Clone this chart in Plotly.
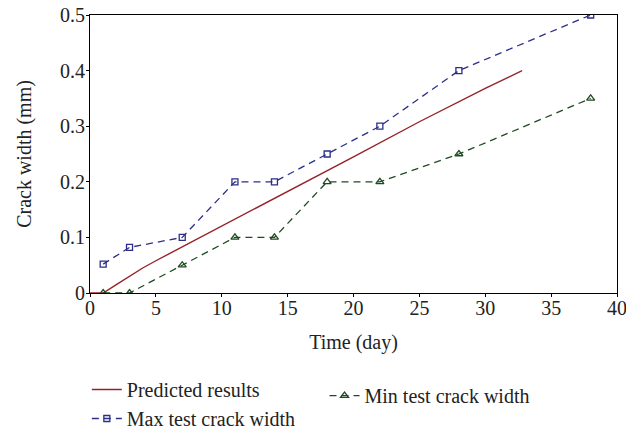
import plotly.graph_objects as go

# Data
pred_x = [0, 1, 2, 3, 4, 5, 10, 15, 20, 25, 30, 32.8]
pred_y = [0, 0, 0.015, 0.03, 0.045, 0.058, 0.12, 0.183, 0.245, 0.308, 0.368, 0.40]

test_x = [1, 3, 7, 11, 14, 18, 22, 28, 38]
max_y = [0.052, 0.082, 0.10, 0.20, 0.20, 0.25, 0.30, 0.40, 0.50]
min_y = [0, 0, 0.05, 0.10, 0.10, 0.20, 0.20, 0.25, 0.35]

x_ticks = [0, 5, 10, 15, 20, 25, 30, 35, 40]
y_ticks = [0, 0.1, 0.2, 0.3, 0.4, 0.5]
y_tick_labels = ["0", "0.1", "0.2", "0.3", "0.4", "0.5"]

FONT = "Liberation Serif"
FS = 20
RED = "#962228"
BLUE = "#2C2E88"
GREEN = "#1F4A22"

fig = go.Figure()
fig.add_trace(go.Scatter(x=pred_x, y=pred_y, mode="lines", name="Predicted results",
                         line=dict(color=RED, width=1.4), legend="legend"))
fig.add_trace(go.Scatter(x=test_x, y=max_y, mode="lines+markers", name="Max test crack width",
                         line=dict(color=BLUE, width=1.3, dash="7px,5px"),
                         marker=dict(symbol="square-open", size=6, color=BLUE, line=dict(width=1.3)),
                         legend="legend"))
fig.add_trace(go.Scatter(x=test_x, y=min_y, mode="lines+markers", name="Min test crack width",
                         line=dict(color=GREEN, width=1.3, dash="7px,5px"),
                         marker=dict(symbol="triangle-up-open", size=7, color=GREEN, line=dict(width=1.3)),
                         legend="legend2"))

axis_common = dict(showline=True, linecolor="black", linewidth=1.2, mirror=True,
                   showgrid=False, zeroline=False, ticks="outside", ticklen=3,
                   tickcolor="black", automargin=True, ticklabeloverflow="allow",
                   tickfont=dict(family=FONT, size=FS, color="#222"))

fig.update_layout(
    width=626, height=431,
    margin=dict(l=90, r=9, t=15, b=138, autoexpand=False),
    plot_bgcolor="white", paper_bgcolor="white",
    font=dict(family=FONT, size=FS, color="#222"),
    xaxis=dict(range=[0, 40], tickvals=x_ticks, ticklabelstandoff=-6,
               title=dict(text="Time (day)", font=dict(family=FONT, size=FS), standoff=16),
               **axis_common),
    yaxis=dict(range=[0, 0.5], tickvals=y_ticks, ticktext=y_tick_labels, ticklabelstandoff=-3,
               title=dict(text="Crack width (mm)", font=dict(family=FONT, size=FS), standoff=22),
               **axis_common),
    legend=dict(x=-0.006, y=-0.277, xanchor="left", yanchor="top", bgcolor="rgba(0,0,0,0)",
                font=dict(family=FONT, size=FS), orientation="v", itemwidth=30),
    legend2=dict(x=0.445, y=-0.299, xanchor="left", yanchor="top", bgcolor="rgba(0,0,0,0)",
                 font=dict(family=FONT, size=FS), orientation="v", itemwidth=30),
)

fig.write_html(
    "out.html",
    config={"displayModeBar": False},
    post_script=(
        "document.body.style.margin='0';"
        "document.body.style.overflow='hidden';"
        "document.documentElement.style.overflow='hidden';"
    ),
)
